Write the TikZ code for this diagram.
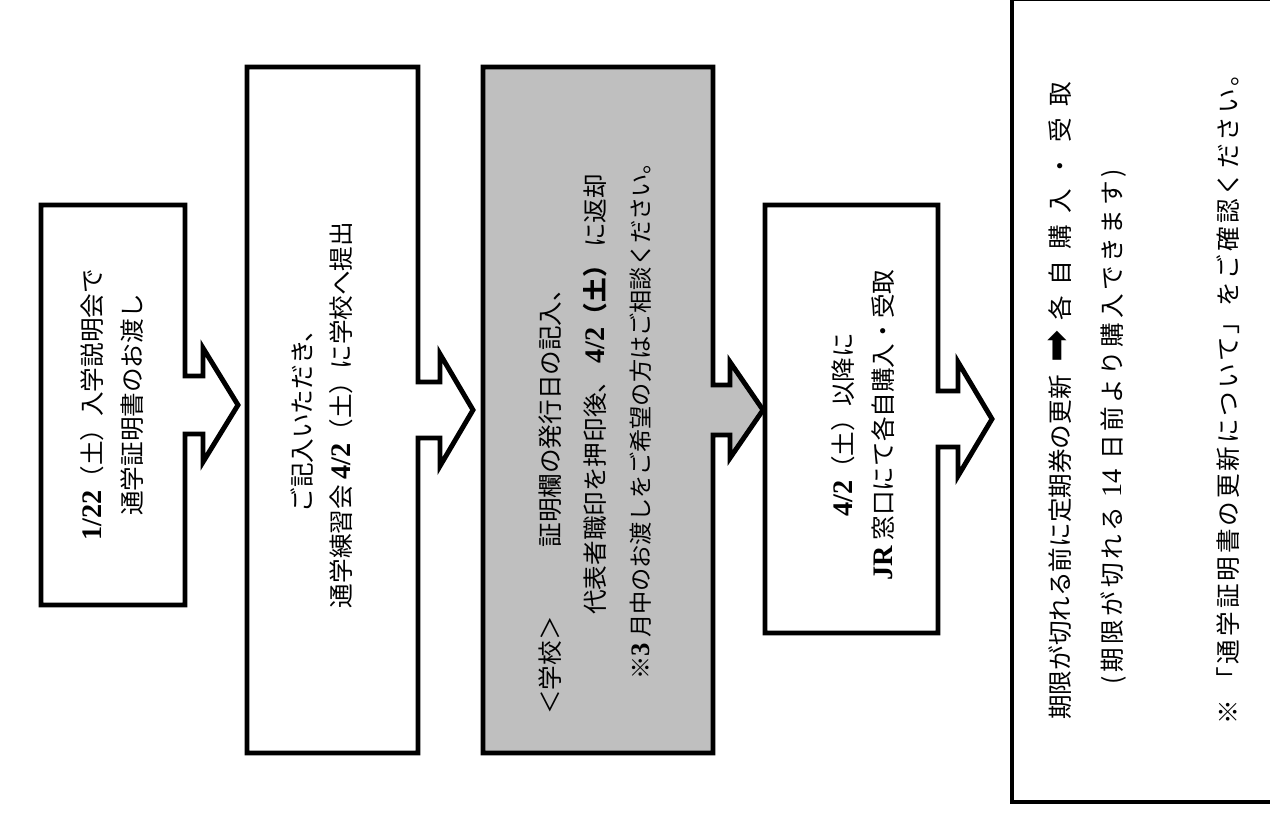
\documentclass[tikz,border=0pt]{standalone}
\usepackage{fontspec}
\setmainfont{Noto Sans CJK JP}
\newfontfamily\latinfont[Scale=1.15]{Liberation Serif}
\newfontfamily\symfont{DejaVu Sans}
\usetikzlibrary{calc}
\definecolor{schoolgray}{RGB}{191,191,191}
\def\px{0.02cm}
\newcommand{\bnum}[1]{{\latinfont\bfseries #1}}
\newcommand{\lnum}[1]{{\latinfont #1}}
\newcommand{\gap}{\hspace{0.45em}}
% box with arrow on its right side: node, fill, stem half, stem length, head half, head length
\newcommand{\flowbox}[6]{%
  \draw[outline, fill=#2] (#1.north west) -- (#1.north east)
    -- ($(#1.east)+(0,-#3)$) -- ++(#4,0) -- ++(0,#3-#5)
    -- ($(#1.east)+(#4+#6,0)$)
    -- ($(#1.east)+(#4,#5)$) -- ++(0,#3-#5) -- ($(#1.east)+(0,#3)$)
    -- (#1.south east) -- (#1.south west) -- cycle;}

\begin{document}
\begin{tikzpicture}[
    x=0.02cm, y=-0.02cm,
    area/.style={inner sep=0, outer sep=0},
    outline/.style={draw=black, line width=2.8pt},
    txt/.style={rotate=90, align=center, inner sep=0, font=\fontsize{14}{22.5}\selectfont},
    small/.style={rotate=90, inner sep=0, font=\fontsize{13.2}{15}\selectfont}
]
    \useasboundingbox (0,0) rectangle (1270,813);

    % Steps
    \node[area, minimum width=144*\px, minimum height=400*\px] (briefing) at (113,405) {};
    \node[area, minimum width=171*\px, minimum height=686*\px] (submit) at (332.5,410) {};
    \node[area, minimum width=230*\px, minimum height=686*\px] (school) at (598,410) {};
    \node[area, minimum width=173*\px, minimum height=428*\px] (purchase) at (851.5,419) {};
    \node[area, minimum width=280*\px, minimum height=803*\px] (renewal) at (1152,400.5) {};

    % Shapes
    \flowbox{briefing}{white}{29}{18}{57}{35}
    \flowbox{submit}{white}{28}{22}{56}{33}
    \flowbox{school}{schoolgray}{25}{17}{48}{33}
    \flowbox{purchase}{white}{28}{20}{57}{34}
    \draw[outline, fill=white] (renewal.north west) rectangle (renewal.south east);

    % Texts
    \node[txt] (briefingtxt) at (112,405) {\bnum{1/22}（土）入学説明会で\\通学証明書のお渡し};
    \node[txt] (submittxt) at (322,415) {ご記入いただき、\\通学練習会 \bnum{4/2}（土）に学校へ提出};
    \node[txt, anchor=west] (schoolhead) at (550,715) {＜学校＞\hspace{2.8em}証明欄の発行日の記入、};
    \node[txt, anchor=west] (schoolret) at (595,615) {代表者職印を押印後、 \bnum{4/2}{\bfseries（土）} に返却};
    \node[small, anchor=west] (schoolnote) at (641,680) {{\bfseries ※}\bnum{3} 月中のお渡しをご希望の方はご相談ください。};
    \node[txt] (purchasetxt) at (863,425) {\bnum{4/2}（土）以降に\\\bnum{JR} 窓口にて各自購入・受取};
    \node[txt, anchor=west] (renewalhead) at (1060,720) {期限が切れる前に定期券の更新\hspace{0.5em}{\symfont\fontsize{22}{22}\selectfont ➡}\hspace{0.4em}各\gap 自\gap 購\gap 入\gap ・\gap 受\gap 取};
    \node[txt, anchor=west] (renewalsub) at (1113,685) {\addfontfeatures{LetterSpace=15}(期限が切れる \lnum{14} 日前より購入できます)};
    \node[txt, anchor=west] (renewalnote) at (1228,725) {\addfontfeatures{LetterSpace=12}※ 「通学証明書の更新について」をご確認ください。};
\end{tikzpicture}
\end{document}
